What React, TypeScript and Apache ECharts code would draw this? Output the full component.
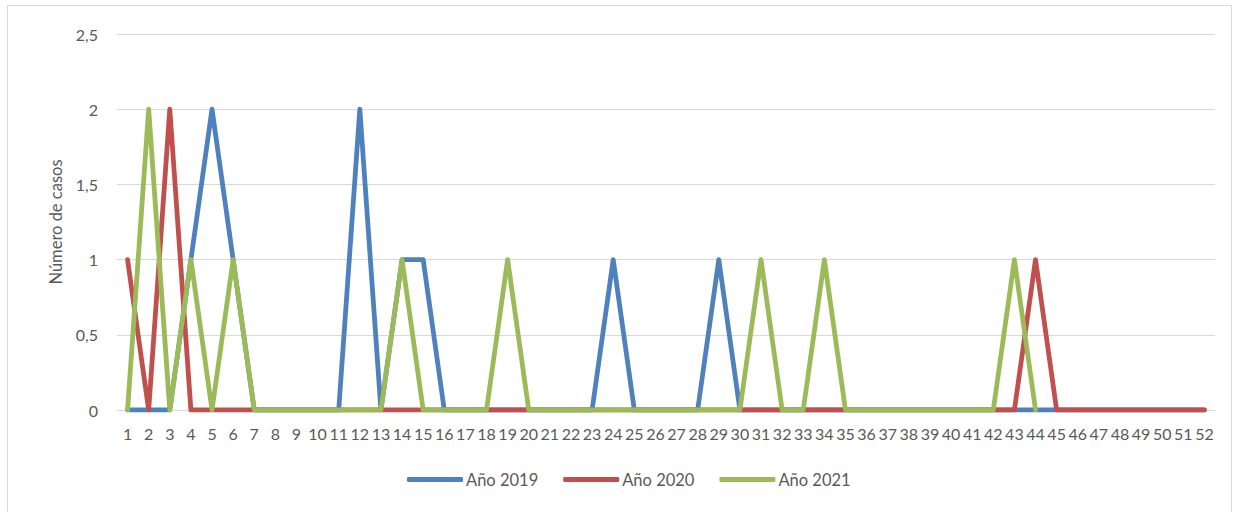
import React, { useEffect, useRef } from "react";
import * as echarts from "echarts";

const weeks: string[] = Array.from({ length: 52 }, (_, i) => String(i + 1));

const y2019: number[] = [0, 0, 0, 1, 2, 1, 0, 0, 0, 0, 0, 2, 0, 1, 1, 0, 0, 0, 0, 0, 0, 0, 0, 1, 0, 0, 0, 0, 1, 0, 0, 0, 0, 0, 0, 0, 0, 0, 0, 0, 0, 0, 0, 0, 0, 0, 0, 0, 0, 0, 0, 0];
const y2020: number[] = [1, 0, 2, 0, 0, 0, 0, 0, 0, 0, 0, 0, 0, 0, 0, 0, 0, 0, 0, 0, 0, 0, 0, 0, 0, 0, 0, 0, 0, 0, 0, 0, 0, 0, 0, 0, 0, 0, 0, 0, 0, 0, 0, 1, 0, 0, 0, 0, 0, 0, 0, 0];
const y2021: number[] = [0, 2, 0, 1, 0, 1, 0, 0, 0, 0, 0, 0, 0, 1, 0, 0, 0, 0, 1, 0, 0, 0, 0, 0, 0, 0, 0, 0, 0, 0, 1, 0, 0, 1, 0, 0, 0, 0, 0, 0, 0, 0, 1, 0];

const seriesNames = ["Año 2019", "Año 2020", "Año 2021"];
const colors = ["#4F81BD", "#C0504D", "#9BBB59"];

export default function App() {
  const ref = useRef<HTMLDivElement>(null);
  useEffect(() => {
    document.body.style.margin = "0";
    const chart = echarts.init(ref.current!, null, { renderer: "svg" });
    const font = "Lato, 'Open Sans', sans-serif";
    const mk = (name: string, data: number[], color: string) => ({
      name,
      type: "line",
      data,
      symbol: "none",
      lineStyle: { width: 4.8, color, cap: "round", join: "round" },
      itemStyle: { color },
    });
    chart.setOption({
      animation: false,
      textStyle: { fontFamily: font },
      graphic: [
        {
          type: "rect",
          shape: { x: 7.5, y: 5.5, width: 1224, height: 520 },
          style: { fill: "none", stroke: "#D9D9D9", lineWidth: 1 },
          silent: true,
        },
      ],
      grid: { left: 117, right: 24, top: 34, bottom: 102 },
      xAxis: {
        type: "category",
        data: weeks,
        boundaryGap: true,
        axisLine: { show: true, lineStyle: { color: "#D9D9D9", width: 1 } },
        axisTick: { show: false },
        axisLabel: { interval: 0, color: "#595959", fontSize: 16, margin: 15, fontFamily: font },
      },
      yAxis: {
        type: "value",
        min: 0,
        max: 2.5,
        interval: 0.5,
        name: "Número de casos",
        nameLocation: "middle",
        nameGap: 53,
        nameTextStyle: { color: "#595959", fontSize: 16.5, fontFamily: font },
        axisLine: { show: false },
        axisTick: { show: false },
        splitLine: { lineStyle: { color: "#D9D9D9", width: 1 } },
        axisLabel: {
          color: "#595959",
          fontSize: 16,
          margin: 19,
          fontFamily: font,
          formatter: (v: number) => String(v).replace(".", ","),
        },
      },
      legend: {
        data: seriesNames,
        left: 407,
        top: 471,
        padding: 0,
        icon: "roundRect",
        itemWidth: 56,
        itemHeight: 5,
        itemGap: 25,
        textStyle: { color: "#595959", fontSize: 16.5, fontFamily: font, padding: [0, 0, 0, -2] },
      },
      series: [
        mk(seriesNames[0], y2019, colors[0]),
        mk(seriesNames[1], y2020, colors[1]),
        mk(seriesNames[2], y2021, colors[2]),
      ],
    });
    return () => chart.dispose();
  }, []);
  return <div ref={ref} style={{ width: 1239, height: 512 }} />;
}
